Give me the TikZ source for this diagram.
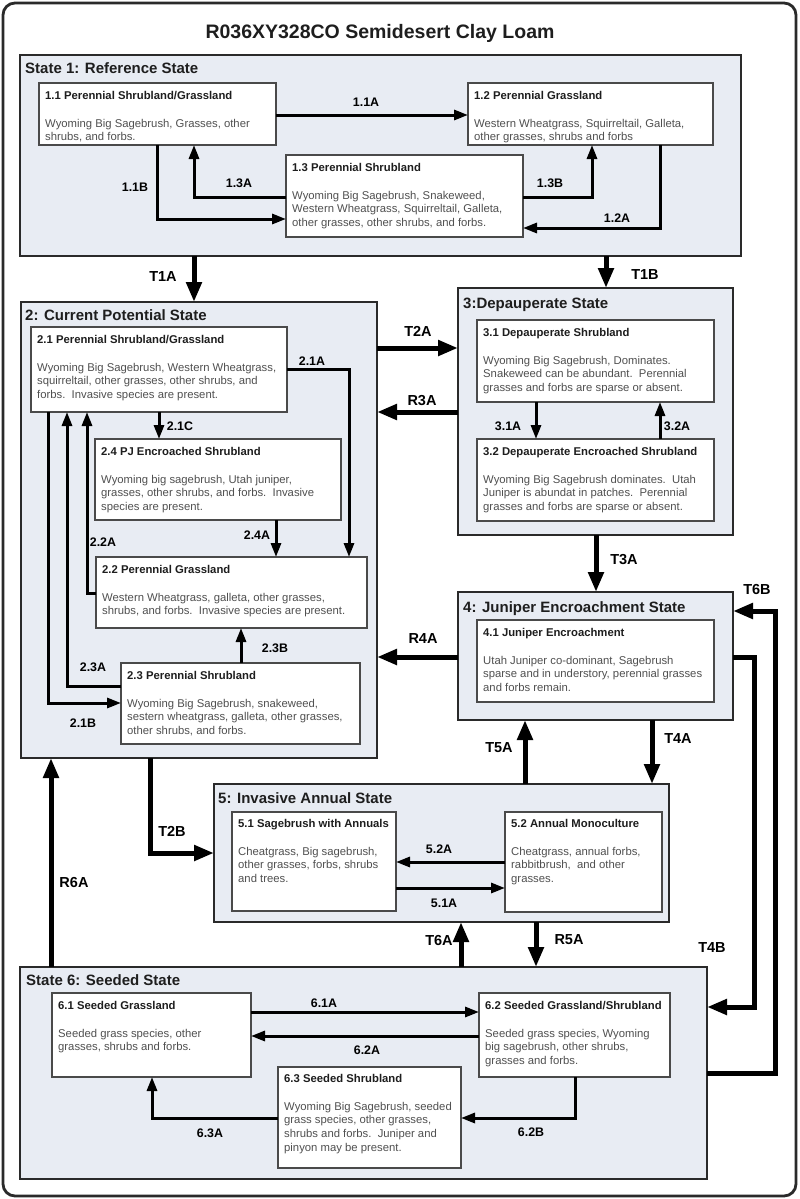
\documentclass[tikz,border=0pt]{standalone}
\usepackage{fontspec}
\setmainfont{Liberation Sans}
\usetikzlibrary{arrows.meta,calc}
\definecolor{statefill}{HTML}{E8ECF3}
\definecolor{statedraw}{HTML}{2A2A2A}
\definecolor{boxdraw}{HTML}{4A4A4A}
\definecolor{bodyc}{HTML}{505050}
\definecolor{titc}{HTML}{1E1E1E}
\newcommand\boxtitle[1]{\rule{0pt}{9.5pt}\textcolor{titc}{\bfseries #1}\\[14.3pt]}
\begin{document}
\begin{tikzpicture}[x=1pt,y=-1pt,
  statebox/.style={draw=statedraw, fill=statefill, line width=2.5pt, anchor=north west, inner sep=0pt, outer sep=0pt},
  inbox/.style={draw=boxdraw, fill=white, line width=1.2pt, anchor=north west, inner sep=0pt, outer sep=0pt},
  bodytext/.style={anchor=north west, align=left, inner sep=0pt, text=bodyc, font=\fontsize{11.3}{13.7}\selectfont},
  statelbl/.style={anchor=base west, inner sep=0pt, text=titc, font=\bfseries\fontsize{15}{15}\selectfont},
  lbl/.style={inner sep=0pt, text=black, font=\bfseries\fontsize{12.4}{12.4}\selectfont},
  tlbl/.style={inner sep=0pt, text=black, font=\bfseries\fontsize{14.5}{14.5}\selectfont},
  arr/.style={draw=black, line width=3pt, line join=miter, -{Triangle[length=14pt,width=10pt]}},
  tarr/.style={draw=black, line width=5pt, line join=miter, -{Triangle[length=20pt,width=15pt]}}
]
\useasboundingbox (0,0) rectangle (800,1199);
\fill[white] (0,0) rectangle (800,1199);
\draw[rounded corners=12pt, line width=2.8pt, draw=statedraw] (3,3) rectangle (796,1196);

\node[anchor=base, inner sep=0pt, text=titc, font=\bfseries\fontsize{19.5}{19.5}\selectfont] (title) at (380,39) {R036XY328CO Semidesert Clay Loam};

% ---------- state boxes
\node[statebox, minimum width=721pt, minimum height=201pt] (s1) at (20,55) {};
\node[statebox, minimum width=356pt, minimum height=456pt] (s2) at (21,302) {};
\node[statebox, minimum width=275pt, minimum height=247pt] (s3) at (458,288) {};
\node[statebox, minimum width=275pt, minimum height=128pt] (s4) at (458,592) {};
\node[statebox, minimum width=455pt, minimum height=138pt] (s5) at (214,784) {};
\node[statebox, minimum width=687pt, minimum height=212pt] (s6) at (20,967) {};

\node[statelbl] (l1) at (25,74) {State 1: Reference State};
\node[statelbl] (l2) at (25,320) {2: Current Potential State};
\node[statelbl] (l3) at (463,308) {3:Depauperate State};
\node[statelbl] (l4) at (463,612) {4: Juniper Encroachment State};
\node[statelbl] (l5) at (218,803) {5: Invasive Annual State};
\node[statelbl] (l6) at (26,985) {State 6: Seeded State};

% ---------- community boxes
\node[inbox, minimum width=237pt, minimum height=62pt] (b11) at (39,83) {};
\node[inbox, minimum width=245pt, minimum height=62pt] (b12) at (468,83) {};
\node[inbox, minimum width=237pt, minimum height=82pt] (b13) at (286,155) {};
\node[inbox, minimum width=256pt, minimum height=85pt] (b21) at (31,327) {};
\node[inbox, minimum width=246pt, minimum height=81pt] (b24) at (95,439) {};
\node[inbox, minimum width=271pt, minimum height=71pt] (b22) at (96,557) {};
\node[inbox, minimum width=239pt, minimum height=81pt] (b23) at (121,663) {};
\node[inbox, minimum width=237pt, minimum height=82pt] (b31) at (477,320) {};
\node[inbox, minimum width=237pt, minimum height=82pt] (b32) at (477,439) {};
\node[inbox, minimum width=237pt, minimum height=82pt] (b41) at (477,620) {};
\node[inbox, minimum width=164pt, minimum height=99pt] (b51) at (232,812) {};
\node[inbox, minimum width=157pt, minimum height=100pt] (b52) at (505,812) {};
\node[inbox, minimum width=199pt, minimum height=84pt] (b61) at (52,993) {};
\node[inbox, minimum width=191pt, minimum height=84pt] (b62) at (479,993) {};
\node[inbox, minimum width=183pt, minimum height=101pt] (b63) at (278,1067) {};

\node[bodytext] (t11) at (45,89.5) {\boxtitle{1.1 Perennial Shrubland/Grassland}Wyoming Big Sagebrush, Grasses, other\\shrubs, and forbs.};
\node[bodytext] (t12) at (474,89.5) {\boxtitle{1.2 Perennial Grassland}Western Wheatgrass, Squirreltail, Galleta,\\other grasses, shrubs and forbs};
\node[bodytext] (t13) at (292,161.5) {\boxtitle{1.3 Perennial Shrubland}Wyoming Big Sagebrush, Snakeweed,\\Western Wheatgrass, Squirreltail, Galleta,\\other grasses, other shrubs, and forbs.};
\node[bodytext] (t21) at (37,333.5) {\boxtitle{2.1 Perennial Shrubland/Grassland}Wyoming Big Sagebrush, Western Wheatgrass,\\squirreltail, other grasses, other shrubs, and\\forbs.\ \ Invasive species are present.};
\node[bodytext] (t24) at (101,445.5) {\boxtitle{2.4 PJ Encroached Shrubland}Wyoming big sagebrush, Utah juniper,\\grasses, other shrubs, and forbs.\ \ Invasive\\species are present.};
\node[bodytext] (t22) at (102,563.5) {\boxtitle{2.2 Perennial Grassland}Western Wheatgrass, galleta, other grasses,\\shrubs, and forbs.\ \ Invasive species are present.};
\node[bodytext] (t23) at (127,669.5) {\boxtitle{2.3 Perennial Shrubland}Wyoming Big Sagebrush, snakeweed,\\sestern wheatgrass, galleta, other grasses,\\other shrubs, and forbs.};
\node[bodytext] (t31) at (483,326.5) {\boxtitle{3.1 Depauperate Shrubland}Wyoming Big Sagebrush, Dominates.\\Snakeweed can be abundant.\ \ Perennial\\grasses and forbs are sparse or absent.};
\node[bodytext] (t32) at (483,445.5) {\boxtitle{3.2 Depauperate Encroached Shrubland}Wyoming Big Sagebrush dominates.\ \ Utah\\Juniper is abundat in patches.\ \ Perennial\\grasses and forbs are sparse or absent.};
\node[bodytext] (t41) at (483,626.5) {\boxtitle{4.1 Juniper Encroachment}Utah Juniper co-dominant, Sagebrush\\sparse and in understory, perennial grasses\\and forbs remain.};
\node[bodytext] (t51) at (238,817.5) {\boxtitle{5.1 Sagebrush with Annuals}Cheatgrass, Big sagebrush,\\other grasses, forbs, shrubs\\and trees.};
\node[bodytext] (t52) at (511,817.5) {\boxtitle{5.2 Annual Monoculture}Cheatgrass, annual forbs,\\rabbitbrush,\ \ and other\\grasses.};
\node[bodytext] (t61) at (58,999.5) {\boxtitle{6.1 Seeded Grassland}Seeded grass species, other\\grasses, shrubs and forbs.};
\node[bodytext] (t62) at (485,999.5) {\boxtitle{6.2 Seeded Grassland/Shrubland}Seeded grass species, Wyoming\\big sagebrush, other shrubs,\\grasses and forbs.};
\node[bodytext] (t63) at (284,1072.5) {\boxtitle{6.3 Seeded Shrubland}Wyoming Big Sagebrush, seeded\\grass species, other grasses,\\shrubs and forbs.\ \ Juniper and\\pinyon may be present.};

% ---------- State 1 pathways
\draw[arr] (b11.east |- 0,115) -- (b12.west |- 0,115);
\node[lbl] (p11a) at (366,102) {1.1A};
\draw[arr] (157,0 |- b11.south) -- (157,219) -- (b13.west |- 0,219);
\node[lbl] (p11b) at (135,187) {1.1B};
\draw[arr] (b13.west |- 0,197) -- (194,197) -- (194,0 |- b11.south);
\node[lbl] (p13a) at (239,183) {1.3A};
\draw[arr] (b13.east |- 0,197) -- (592,197) -- (592,0 |- b12.south);
\node[lbl] (p13b) at (550,183) {1.3B};
\draw[arr] (660,0 |- b12.south) -- (660,228) -- (b13.east |- 0,228);
\node[lbl] (p12a) at (617,218) {1.2A};

\draw[tarr] (194,0 |- s1.south) -- (194,0 |- s2.north);
\node[tlbl] (pt1a) at (163,277) {T1A};
\draw[tarr] (606,0 |- s1.south) -- (606,0 |- s3.north);
\node[tlbl] (pt1b) at (645,275) {T1B};

% ---------- State 2 pathways
\draw[arr] (b21.east |- 0,369) -- (349,369) -- (349,0 |- b22.north);
\node[lbl] (p21a) at (312,361) {2.1A};
\draw[arr] (159,0 |- b21.south) -- (159,0 |- b24.north);
\node[lbl] (p21c) at (180,426) {2.1C};
\draw[arr] (276,0 |- b24.south) -- (276,0 |- b22.north);
\node[lbl] (p24a) at (257,535) {2.4A};
\draw[arr] (b22.west |- 0,593) -- (87,593) -- (87,0 |- b21.south);
\node[lbl] (p22a) at (103,542) {2.2A};
\draw[arr] (b23.west |- 0,686) -- (67,686) -- (67,0 |- b21.south);
\node[lbl] (p23a) at (93,667) {2.3A};
\draw[arr] (48,0 |- b21.south) -- (48,703) -- (b23.west |- 0,703);
\node[lbl] (p21b) at (83,723) {2.1B};
\draw[arr] (241,0 |- b23.north) -- (241,0 |- b22.south);
\node[lbl] (p23b) at (275,648) {2.3B};

% ---------- State 3 pathways
\draw[arr] (536,0 |- b31.south) -- (536,0 |- b32.north);
\node[lbl] (p31a) at (508,426) {3.1A};
\draw[arr] (660,0 |- b32.north) -- (660,0 |- b31.south);
\node[lbl] (p32a) at (677,426) {3.2A};
\draw[tarr] (s2.east |- 0,348) -- (s3.west |- 0,348);
\node[tlbl] (pt2a) at (418,331) {T2A};
\draw[tarr] (s3.west |- 0,412) -- (s2.east |- 0,412);
\node[tlbl] (pr3a) at (422,401) {R3A};
\draw[tarr] (596,0 |- s3.south) -- (596,0 |- s4.north);
\node[tlbl] (pt3a) at (624,560) {T3A};

% ---------- State 4 pathways
\draw[tarr] (s4.west |- 0,657) -- (s2.east |- 0,657);
\node[tlbl] (pr4a) at (423,639) {R4A};
\draw[tarr] (652,0 |- s4.south) -- (652,0 |- s5.north);
\node[tlbl] (pt4a) at (678,739) {T4A};
\draw[tarr] (525,0 |- s5.north) -- (525,0 |- s4.south);
\node[tlbl] (pt5a) at (499,748) {T5A};
\draw[tarr] (s6.east |- 0,1073) -- (775,1073) -- (775,611) -- (s4.east |- 0,611);
\node[tlbl] (pt6b) at (757,590) {T6B};
\draw[tarr] (s4.east |- 0,657) -- (754,657) -- (754,1007) -- (s6.east |- 0,1007);
\node[tlbl] (pt4b) at (712,948) {T4B};

% ---------- State 5 pathways
\draw[arr] (b52.west |- 0,862) -- (b51.east |- 0,862);
\node[lbl] (p52a) at (439,849) {5.2A};
\draw[arr] (b51.east |- 0,888) -- (b52.west |- 0,888);
\node[lbl] (p51a) at (444,903) {5.1A};
\draw[tarr] (150,0 |- s2.south) -- (150,853) -- (s5.west |- 0,853);
\node[tlbl] (pt2b) at (172,831) {T2B};
\draw[tarr] (461,0 |- s6.north) -- (461,0 |- s5.south);
\node[tlbl] (pt6a) at (439,940) {T6A};
\draw[tarr] (536,0 |- s5.south) -- (536,0 |- s6.north);
\node[tlbl] (pr5a) at (569,940) {R5A};
\draw[tarr] (51,0 |- s6.north) -- (51,0 |- s2.south);
\node[tlbl] (pr6a) at (74,882) {R6A};

% ---------- State 6 pathways
\draw[arr] (b61.east |- 0,1012) -- (b62.west |- 0,1012);
\node[lbl] (p61a) at (324,1003) {6.1A};
\draw[arr] (b62.west |- 0,1036) -- (b61.east |- 0,1036);
\node[lbl] (p62a) at (367,1050) {6.2A};
\draw[arr] (575,0 |- b62.south) -- (575,1118) -- (b63.east |- 0,1118);
\node[lbl] (p62b) at (531,1132) {6.2B};
\draw[arr] (b63.west |- 0,1118) -- (152,1118) -- (152,0 |- b61.south);
\node[lbl] (p63a) at (210,1133) {6.3A};
\end{tikzpicture}
\end{document}
